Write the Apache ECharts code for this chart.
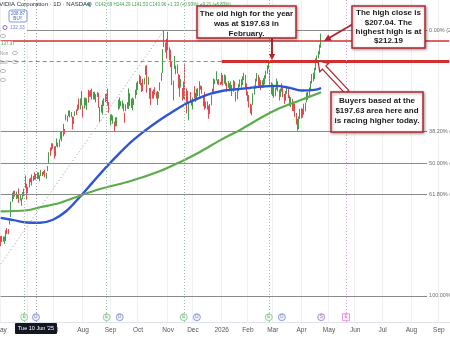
<!DOCTYPE html>
<html><head><meta charset="utf-8">
<script src="https://cdn.jsdelivr.net/npm/echarts@6/dist/echarts.min.js"></script>
<style>html,body{margin:0;padding:0;background:#fff;overflow:hidden}#c{width:450px;height:338px}</style>
</head><body><div id="c"></div>
<script>
// ---------- calendar ----------
const HOLIDAYS = ['2025-05-26','2025-06-19','2025-07-04','2025-09-01','2025-11-27','2025-12-25','2026-01-01','2026-01-19','2026-02-16','2026-04-03','2026-05-25','2026-06-19','2026-07-03','2026-09-07'];
const FIRST_DAY = '2025-05-01', LAST_DAY = '2026-09-14';
const MONTHS = ['Jan','Feb','Mar','Apr','May','Jun','Jul','Aug','Sep','Oct','Nov','Dec'];

// ---------- daily candles [open, close, low, high] ----------
const may2025 = [[113.1,111.6,110.1,114.9],[114.2,114.5,112.1,115.0],[112.9,113.8,112.3,114.7],[111.5,113.5,111.2,114.7],[113.1,117.1,112.5,117.7],
[118.3,117.4,115.8,118.7],[117.4,116.7,115.8,118.2],[121.9,123.0,120.3,123.0],[124.0,129.9,123.9,131.2],[133.2,135.3,131.0,135.4],
[134.3,134.8,132.4,136.3],[136.2,135.4,133.6,136.3],[132.4,135.6,132.4,135.9],[134.3,134.4,132.6,134.6],[133.1,131.8,130.6,137.4],
[132.2,132.8,131.6,134.3],[130.0,131.3,129.2,132.7],[134.2,135.5,132.3,135.7],[136.0,134.8,133.8,137.3],[142.3,139.2,137.5,143.5],
[138.7,135.1,132.1,139.6]];
const jun2025 = [[135.5,137.4,135.1,138.1],[138.8,141.2,137.9,142.0],[142.2,141.9,140.3,142.4],[142.2,140.0,138.8,144.0],[142.5,141.7,140.9,143.3],
[143.2,142.6,141.5,145.0],[142.69,143.96,141.53,144.29],[144.6,142.8,141.8,145.0],[141.97,145.0,141.9,145.0],[142.5,142.0,140.8,143.6],
[143.4,144.7,143.2,146.2],[144.5,144.1,143.2,145.2],[144.1,145.5,143.9,145.6],[145.5,143.9,142.7,146.2],[142.5,144.2,142.0,144.8],
[145.6,147.9,145.6,148.0],[149.3,154.3,149.2,154.5],[155.98,155.0,152.8,156.7],[156.0,157.75,155.2,158.7],[158.4,158.0,156.1,158.7]];
const jul2025 = [[156.3,153.3,151.5,157.2],[152.9,157.25,152.6,157.4],[158.4,159.3,157.2,161.0],[158.8,158.2,156.7,159.0],[159.0,160.0,157.0,160.6],
[161.2,162.9,160.6,164.4],[164.3,160.0,159.6,164.5],[162.6,164.9,162.0,167.9],[165.4,164.1,163.0,165.5],[171.2,170.7,169.5,172.4],
[171.1,171.4,168.9,171.7],[172.0,173.0,171.5,174.2],[173.6,172.4,170.9,174.2],[172.8,171.4,171.0,173.4],[171.3,167.0,165.3,171.4],
[169.5,170.8,167.8,171.3],[172.0,173.7,171.6,173.8],[173.6,173.5,172.1,174.7],[174.0,176.75,173.9,177.0],[179.4,175.5,174.6,179.9],
[176.1,179.3,174.7,179.9],[182.9,177.9,176.6,183.3]];
const aug2025 = [[174.1,173.7,170.9,176.5],[175.2,180.0,175.1,180.3],[179.6,178.3,176.5,180.3],[176.3,179.4,174.5,179.9],[181.6,180.8,177.9,183.9],
[181.6,182.7,180.6,183.3],[182.2,182.1,180.6,183.8],[183.0,183.2,179.3,184.5],[182.6,181.6,179.4,183.0],[179.8,182.0,179.3,183.0],
[181.9,180.45,178.0,181.9],[180.6,182.0,180.6,182.9],[182.4,175.6,175.5,182.5],[175.2,175.4,168.8,175.8],[174.8,175.0,173.2,176.9],
[172.6,178.0,172.2,179.0],[178.4,179.8,176.3,180.0],[180.1,181.8,178.1,182.0],[182.0,181.6,178.6,182.0],[178.1,180.2,176.5,184.5],
[178.1,174.2,173.1,178.2]];
const sep2025 = [[170.0,170.8,167.2,172.4],[171.1,170.6,169.4,172.4],[170.6,171.7,167.9,171.9],[168.0,167.0,164.1,169.0],[167.6,168.3,166.7,171.0],
[169.1,170.8,166.7,171.0],[176.6,177.3,174.5,179.3],[179.7,177.2,175.1,180.3],[177.8,177.8,176.2,178.6],[175.7,177.75,175.1,178.9],
[177.0,174.9,173.8,177.5],[172.6,170.3,168.4,173.2],[174.0,176.2,173.8,177.1],[175.8,176.7,175.0,178.1],[175.3,183.6,174.9,184.6],
[182.0,178.4,176.3,182.4],[179.8,177.0,175.4,179.8],[174.5,177.7,174.2,180.3],[178.2,178.2,176.8,179.8],[180.4,181.85,179.8,184.0],
[182.1,186.6,181.5,187.35]];
const oct2025 = [[185.2,187.2,183.9,188.1],[189.6,188.9,186.7,191.05],[189.2,187.6,186.0,190.4],[185.5,185.5,182.9,187.2],[186.2,185.0,183.3,189.1],
[186.6,189.1,186.5,189.6],[192.2,192.6,191.0,195.3],[193.5,183.2,182.6,195.6],[188.0,188.3,186.3,190.1],[184.8,180.0,179.7,184.8],
[184.8,179.8,176.8,184.9],[182.2,181.8,179.8,183.3],[180.2,183.2,179.8,184.1],[183.1,182.6,181.7,185.2],[182.8,181.2,179.8,182.8],
[181.1,180.3,176.8,183.4],[180.4,182.2,179.8,183.0],[183.8,186.3,183.5,187.5],[190.0,191.5,188.2,192.0],[193.1,201.0,191.9,203.2],
[208.0,207.04,204.1,212.19],[205.2,202.9,201.6,206.2],[206.5,202.5,198.7,208.0]];
const nov2025 = [[208.1,206.9,202.6,211.3],[203.0,198.7,197.9,204.0],[198.8,195.2,194.6,202.9],[196.4,188.1,186.2,197.6],[184.9,188.15,178.9,188.3],
[195.1,199.05,193.8,199.9],[195.2,193.2,191.3,195.4],[195.7,193.8,191.6,195.9],[191.1,186.9,184.6,191.4],[182.9,190.2,180.6,191.0],
[186.0,186.6,185.0,189.0],[183.4,181.4,178.9,184.8],[184.8,186.5,179.7,187.9],[196.0,180.6,179.6,196.0],[181.2,178.9,172.9,184.6],
[179.5,182.6,178.1,183.5],[174.9,177.8,169.6,178.2],[181.6,180.3,178.7,182.9],[179.0,177.0,176.5,179.3]];
const dec2025 = [[174.8,179.9,174.7,180.3],[181.8,181.5,179.9,185.7],[181.1,179.6,178.2,182.5],[181.6,183.4,179.7,184.5],[183.9,182.4,180.9,184.7],
[182.6,185.55,180.7,188.0],[185.6,185.0,184.0,186.0],[184.9,183.8,182.1,185.7],[180.2,180.9,176.1,181.4],[181.1,175.0,174.6,182.9],
[177.9,176.3,175.2,178.4],[176.3,177.7,174.6,178.5],[176.2,170.9,170.3,176.5],[174.5,174.1,172.5,177.2],[176.7,181.0,176.6,181.4],
[183.9,183.7,182.6,184.5],[182.9,189.2,182.8,189.3],[187.9,188.6,186.6,188.9],[189.9,190.5,188.3,192.7],[187.7,188.2,186.5,188.8],
[188.2,187.5,186.3,189.0],[187.0,186.5,186.3,187.6]];
const jan2026 = [[189.8,188.9,186.5,192.0],[190.5,187.6,186.0,191.0],[188.0,190.2,186.8,191.2],[189.5,186.9,185.8,190.8],[186.0,185.1,183.0,187.3],
[185.8,187.4,184.9,188.2],[186.5,184.7,183.2,187.0],[185.0,186.3,184.0,187.9],[185.8,182.1,181.0,186.2],[183.5,186.8,183.0,188.5],
[187.2,186.1,184.5,188.0],[182.0,179.8,178.4,183.0],[180.5,182.9,179.5,183.8],[184.0,185.6,183.2,186.7],[186.0,187.9,185.3,188.8],
[187.5,186.4,185.0,189.0],[187.0,189.5,186.2,190.3],[190.0,191.2,188.5,192.0],[190.5,187.1,184.5,191.0],[186.0,183.5,181.2,187.0]];
const feb2026 = [[182.0,181.0,178.5,183.2],[180.0,177.2,175.6,181.5],[176.5,174.3,172.8,177.4],[173.8,175.8,171.9,177.0],[177.5,181.6,176.8,182.3],
[182.5,184.9,181.7,186.0],[185.2,188.4,184.6,189.2],[189.0,190.9,187.9,191.9],[190.2,187.3,186.0,191.0],[186.8,188.9,185.6,189.8],
[187.5,185.1,183.8,188.5],[185.8,187.6,184.9,188.4],[188.0,186.2,185.0,189.5],[187.0,189.9,186.5,190.8],[190.5,191.8,189.2,193.0],
[192.0,194.6,191.5,195.5],[195.0,196.3,193.8,197.63],[192.0,186.5,185.2,193.5],[186.0,183.4,181.8,187.5]];
const mar2026 = [[182.5,185.8,181.0,186.9],[184.5,181.6,180.2,185.5],[182.0,184.3,180.9,185.0],[184.8,188.2,184.0,189.3],[187.5,184.5,183.2,188.0],
[183.0,180.7,178.9,184.0],[181.5,183.8,180.6,184.6],[184.2,185.9,183.1,187.0],[185.0,181.9,180.5,185.6],[181.0,178.6,177.3,182.0],
[179.5,182.6,178.8,183.4],[183.0,184.8,182.0,185.8],[184.0,180.9,180.0,184.9],[180.0,177.9,176.4,181.3],[177.0,179.5,175.8,180.5],
[179.0,175.3,174.0,179.6],[175.0,177.5,173.8,178.4],[176.8,172.0,171.2,177.5],[171.5,168.9,167.6,173.0],[169.5,166.4,164.6,170.2],
[166.8,170.6,165.4,171.4],[171.0,174.2,170.2,175.0]];
const apr2026 = [[171.5,174.0,170.4,175.2],[173.5,172.4,170.9,175.0],[173.0,176.6,172.2,177.4],[176.5,175.1,173.8,177.9],[178.5,181.9,178.0,182.7],
[181.5,180.6,179.2,182.9],[181.0,184.1,180.4,185.0],[184.5,187.3,183.7,188.1],[187.8,190.6,186.9,191.4],[190.8,189.2,187.9,192.0],
[189.8,193.5,189.0,194.3],[193.8,197.9,193.2,198.8],[198.6,199.2,197.4,200.1],[199.5,201.3,198.8,202.2],[201.8,204.2,200.6,205.3],
[204.5,208.87,203.8,210.5]];

// ---------- moving averages [tradingDayIndex, price] ----------
const ma100 = [[0,123.5],[10,122.4],[20,121.3],[30,121.2],[40,122.6],[50,126.6],[60,133],[70,140],[80,147],[90,153.5],[100,159.5],
[110,164.5],[120,169],[130,173],[140,176.8],[150,179.6],[160,182],[170,183.5],[180,184.2],[190,184.8],[200,185.5],[210,185.8],
[220,185],[230,183.6],[240,183.9],[245,184.8]];
const ma200 = [[0,126.6],[20,127.1],[30,128.5],[45,130.5],[62,134.3],[76,137.1],[100,141],[122,145.6],[137,149.8],[152,154.5],
[168,160.2],[183,165],[198,170.4],[213,175.2],[229,179],[245,182.8]];

// ---------- fibonacci tool ----------
const fibLowIdx = -17, fibLow = 86.62, fibHighIdx = 125, fibHigh = 212.19;
const fibRatios = ['0.00%','38.20%','50.00%','61.80%','100.00%'];
const fibLevels = [212.19, 164.22, 149.40, 134.59, 86.62];

// ---------- horizontal levels ----------
const highClose = 207.04, oldHigh = 197.63;

// ---------- events ----------
const earningsIdx = [18, 81, 140, 205];
const dividendIdx = [27, 91, 150, 215];
const nextEarningsIdx = 264;
const todayIdx = 245;
const crossIdx = 27;

// ---------- build calendar ----------
const cats = [];
{
  let d = new Date(FIRST_DAY + 'T00:00:00Z');
  const end = new Date(LAST_DAY + 'T00:00:00Z');
  while (d <= end) {
    const iso = d.toISOString().slice(0,10);
    const wd = d.getUTCDay();
    if (wd !== 0 && wd !== 6 && HOLIDAYS.indexOf(iso) < 0) cats.push(iso);
    d = new Date(d.getTime() + 86400000);
  }
}
const candles = [].concat(may2025, jun2025, jul2025, aug2025, sep2025, oct2025, nov2025, dec2025, jan2026, feb2026, mar2026, apr2026);
function isMonthStart(i){ return i === 0 || cats[i].slice(0,7) !== cats[i-1].slice(0,7); }
function monthLabel(v){ const m = +v.slice(5,7); return m === 1 ? v.slice(0,4) : MONTHS[m-1]; }

const UP = '#43a047', DOWN = '#e5484d', RED = '#d32f2f', BOXRED = '#b3262d';
const FONT = 'Liberation Sans, Arial, sans-serif';

// trend line of fib tool, clipped to the first visible day
const trendAt0 = fibLow + (fibHigh - fibLow) * (0 - fibLowIdx) / (fibHighIdx - fibLowIdx);

const FIB_END = 326;
const lastIdx = cats.length - 1;
const mlData = [];
fibLevels.forEach((lv, k) => {
  mlData.push([{coord:[0, lv], lineStyle:{color:'#8a8a8a', width:1.2, type:'solid'}},
               {coord:[FIB_END, lv], label:{show:true, position:'end', distance:2, formatter: fibRatios[k] + ' (' + lv.toFixed(2) + ')', color:'#6b6b6b', fontSize:5.5, fontFamily:FONT, padding:[0,0,9,0]}}]);
});
mlData.push([{coord:[0, highClose], lineStyle:{color:RED, width:1.6, type:'solid'}}, {coord:[lastIdx, highClose]}]);
mlData.push([{coord:[0, oldHigh], lineStyle:{color:'#8a8a8a', width:1, type:[4,3]}}, {coord:[169, oldHigh]}]);
mlData.push([{coord:[169, oldHigh], lineStyle:{color:RED, width:3, type:'solid'}}, {coord:[lastIdx, oldHigh]}]);
earningsIdx.forEach(i => mlData.push({xAxis:i, lineStyle:{color:'#9fbfa8', width:1, type:[1,2]}}));
mlData.push({xAxis:crossIdx, lineStyle:{color:'#9aa0b0', width:1, type:[1,2]}});
mlData.push({xAxis:nextEarningsIdx, lineStyle:{color:'#d9a6d9', width:1, type:[1,2]}});

const ICON_Y = 76.6;
const iconData = [];
earningsIdx.forEach(i => iconData.push({value:[i, ICON_Y], symbol:'circle', itemStyle:{color:'#edf7ef', borderColor:'#66bb6a', borderWidth:0.8}, label:{formatter:'E', color:'#43a047'}}));
dividendIdx.forEach(i => iconData.push({value:[i, ICON_Y], symbol:'circle', itemStyle:{color:'#eceffa', borderColor:'#5c6bc0', borderWidth:0.8}, label:{formatter:'D', color:'#5c6bc0'}}));
iconData.push({value:[todayIdx, ICON_Y], symbol:'circle', itemStyle:{color:'#f3e5f5', borderColor:'#8e5bc7', borderWidth:0.8}, label:{formatter:'S', color:'#8e5bc7'}});
iconData.push({value:[nextEarningsIdx, ICON_Y], symbol:'rect', itemStyle:{color:'#fbe9fb', borderColor:'#d36bd3', borderWidth:0.8}, label:{formatter:'E', color:'#c050c0'}});

const chart = echarts.init(document.getElementById('c'));
chart.setOption({
  animation: false,
  backgroundColor: '#ffffff',
  grid: {left:0, right:0, top:0, height:322, containLabel:false, outerBoundsMode:'none'},
  xAxis: {
    type:'category', data:cats, boundaryGap:true,
    axisLine:{show:true, lineStyle:{color:'#e0e3eb'}},
    axisTick:{show:false},
    axisLabel:{interval:(i)=>isMonthStart(i), formatter:(v)=>monthLabel(v), fontSize:6.5, color:'#555', margin:5, fontFamily:FONT},
    splitLine:{show:true, interval:(i)=>isMonthStart(i), lineStyle:{color:'#eef0f4', width:1}}
  },
  yAxis: {type:'value', min:74.33, max:226.35, show:false, splitLine:{show:false}},
  series: [
    {type:'candlestick', name:'NVDA', data:candles, barWidth:1.2,
     itemStyle:{color:UP, color0:DOWN, borderColor:UP, borderColor0:DOWN, borderWidth:1},
     markLine:{silent:true, symbol:['none','none'], label:{show:false}, data:mlData}},
    {type:'line', name:'MA100', data:ma100, smooth:0.35, showSymbol:false, lineStyle:{color:'#2f55d4', width:2.4}, z:3},
    {type:'line', name:'MA200', data:ma200, smooth:0.35, showSymbol:false, lineStyle:{color:'#5cad4a', width:2.2}, z:3},
    {type:'line', name:'fibTrend', data:[[0, trendAt0],[fibHighIdx, fibHigh]], showSymbol:false, lineStyle:{color:'#9598a1', width:1, type:[1,2.5]}, z:2},
    {type:'scatter', name:'events', data:iconData, symbolSize:7, z:5,
     label:{show:true, position:'inside', fontSize:4.5, fontFamily:FONT}}
  ]
});

// ---------- overlay annotations ----------
const crossX = chart.convertToPixel({xAxisIndex:0}, crossIdx);
function box(x, y, w, h, lines, cx, ty, lh){
  return [
    {type:'rect', z:100, shape:{x:x, y:y, width:w, height:h}, style:{fill:'#fff', stroke:BOXRED, lineWidth:1.5, shadowBlur:3, shadowColor:'rgba(0,0,0,0.35)', shadowOffsetX:1, shadowOffsetY:1}},
    {type:'text', z:101, style:{text:lines.join('\n'), x:cx, y:ty, align:'center', verticalAlign:'top', fill:'#1a1a1a', font:'bold 8px ' + FONT, lineHeight:lh}}
  ];
}
function arrowHead(tx, ty, fx, fy, len, half){
  const dx = tx - fx, dy = ty - fy, L = Math.hypot(dx, dy), ux = dx/L, uy = dy/L;
  const bx = tx - ux*len, by = ty - uy*len;
  return [[tx,ty],[bx - uy*half, by + ux*half],[bx + uy*half, by - ux*half]];
}
function hollowArrow(fx, fy, tx, ty, w, W, hl){
  const dx = tx - fx, dy = ty - fy, L = Math.hypot(dx, dy), ux = dx/L, uy = dy/L, nx = -uy, ny = ux;
  const bx = tx - ux*hl, by = ty - uy*hl;
  return [[fx+nx*w, fy+ny*w],[bx+nx*w, by+ny*w],[bx+nx*W, by+ny*W],[tx,ty],[bx-nx*W, by-ny*W],[bx-nx*w, by-ny*w],[fx-nx*w, fy-ny*w]];
}
function eye(x, y){ return {type:'ellipse', shape:{cx:x, cy:y, rx:2.6, ry:1.6}, style:{fill:'none', stroke:'#9a9a9a', lineWidth:0.7}, z:90}; }

const g = [
  // header
  {type:'text', z:90, style:{text:'NVIDIA Corporation · 1D · NASDAQ', x:-5, y:1, fill:'#2a2e39', font:'6px ' + FONT}},
  {type:'circle', z:90, shape:{cx:89, cy:4.5, r:1.4}, style:{fill:'#26a69a'}},
  {type:'text', z:90, style:{text:'O142.69 H144.29 L141.53 C143.96 +1.33 (+0.93%) +9.21 (+6.83%)', x:95, y:2, fill:'#43a047', font:'4.5px ' + FONT}},
  {type:'rect', z:90, shape:{x:9, y:10, width:18, height:12, r:2}, style:{fill:'#fff', stroke:'#5b7be0', lineWidth:0.8}},
  {type:'text', z:91, style:{text:'208.87\nBUY', x:18, y:11.5, align:'center', fill:'#3f5fd0', font:'4.5px ' + FONT, lineHeight:5}},
  {type:'rect', z:90, shape:{x:1, y:24, width:26, height:7}, style:{fill:'#fff'}},
  {type:'circle', z:91, shape:{cx:5, cy:27.5, r:2}, style:{fill:'none', stroke:'#7e57c2', lineWidth:0.9}},
  {type:'text', z:91, style:{text:'132.33', x:10, y:25.3, fill:'#7b84c8', font:'4.8px ' + FONT}},
  eye(3, 36),
  {type:'rect', z:90, shape:{x:0, y:41, width:13, height:5}, style:{fill:'#fff'}},
  {type:'text', z:91, style:{text:'137.37', x:1, y:41.2, fill:'#43a047', font:'4.5px ' + FONT}},
  {type:'text', z:91, style:{text:'Non', x:0, y:51, fill:'#9a9a9a', font:'4.5px ' + FONT}}, eye(15, 53),
  {type:'text', z:91, style:{text:'Bull', x:0, y:60, fill:'#9a9a9a', font:'4.5px ' + FONT}}, eye(15, 62),
  eye(3, 71), eye(3, 80),
  // crosshair time label
  {type:'rect', z:95, shape:{x:crossX - 21, y:323, width:42, height:11, r:1}, style:{fill:'#131722'}},
  {type:'text', z:96, style:{text:"Tue 10 Jun '25", x:crossX, y:328.5, align:'center', verticalAlign:'middle', fill:'#fff', font:'5.5px ' + FONT}}
].concat(
  box(197, 6, 99, 32, ['The old high for the year','was at $197.63 in','February.'], 246.5, 8.5, 10),
  box(352, 6, 73, 42, ['The high close is','$207.04. The','highest high is at','$212.19'], 388.5, 8.5, 9.3),
  box(331, 92, 92, 40, ['Buyers based at the','$197.63 area here and','is racing higher today.'], 377, 96, 9.8),
  [
  {type:'line', z:99, shape:{x1:272, y1:38, x2:272, y2:55}, style:{stroke:BOXRED, lineWidth:2}},
  {type:'polygon', z:99, shape:{points:arrowHead(272, 60, 272, 38, 6, 3.2)}, style:{fill:BOXRED}},
  {type:'line', z:99, shape:{x1:353, y1:24, x2:329, y2:38}, style:{stroke:BOXRED, lineWidth:2}},
  {type:'polygon', z:99, shape:{points:arrowHead(324, 41, 353, 24, 7, 3.5)}, style:{fill:BOXRED}},
  {type:'polygon', z:99, shape:{points:hollowArrow(347, 92, 318, 61, 2.4, 6, 9)}, style:{fill:'#fff', stroke:BOXRED, lineWidth:1.2}}
  ]);
chart.setOption({graphic: g});
</script>
</body></html>
